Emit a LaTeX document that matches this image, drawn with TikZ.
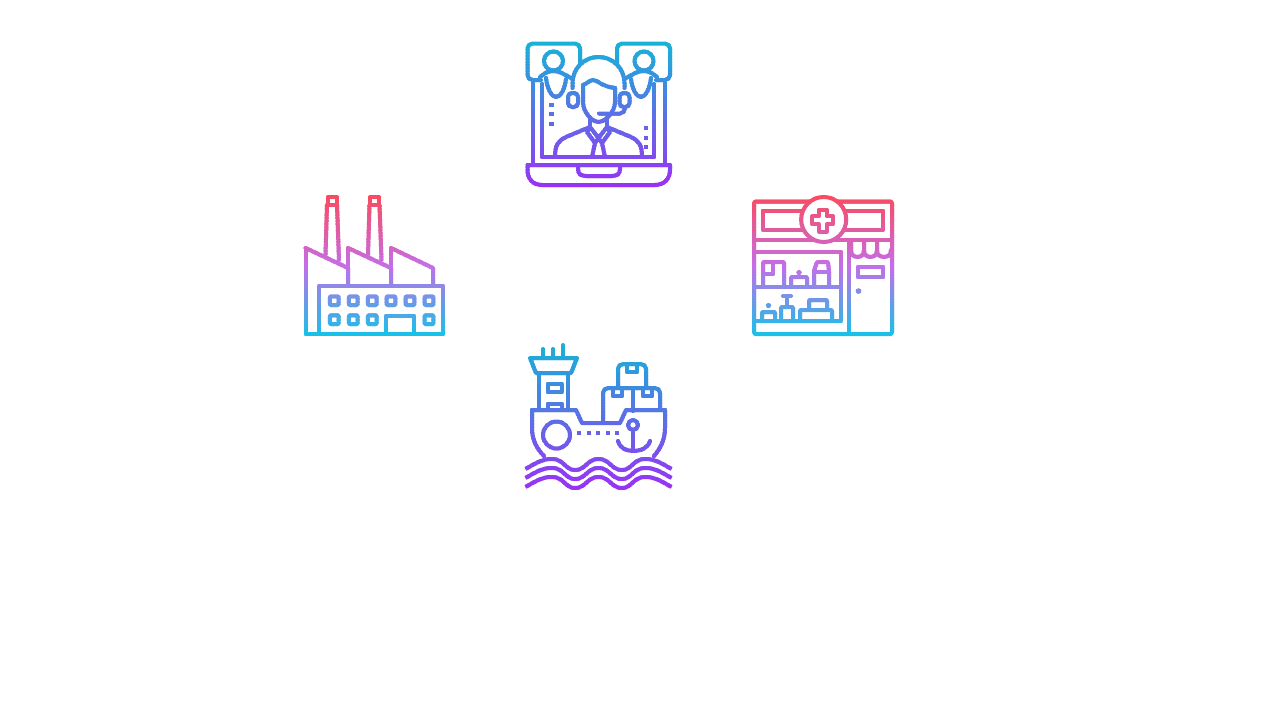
\documentclass[tikz,border=0pt]{standalone}
\usepackage{xcolor}
\definecolor{iconcyan}{HTML}{15B4D6}
\definecolor{iconpurple}{HTML}{9C30F5}
\definecolor{iconblue}{HTML}{5A70E6}
\definecolor{iconred}{HTML}{FB4A5C}
\definecolor{iconviolet}{HTML}{C46EE8}
\definecolor{iconsky}{HTML}{12C4E8}
\tikzset{
  iconline/.style={draw=bandcol, line width=4pt, line join=round, line cap=round},
  icondot/.style={fill=bandcol},
  iconpatch/.style={draw=bandcol, fill=white, line width=4pt},
}
% one strip per three pixel rows, each with its own colour
\newcommand{\gradband}[6]{%
  \foreach \bandy in {#1,\numexpr#1+3\relax,...,#2}{
    \pgfmathsetmacro{\bandt}{(\bandy-#1)/(#2-#1)*200}
    \ifdim\bandt pt<100pt
      \colorlet{bandcol}{#4!\bandt!#3}
    \else
      \pgfmathsetmacro{\bandp}{\bandt-100}
      \colorlet{bandcol}{#5!\bandp!#4}
    \fi
    \begin{scope}
      \clip (0,\bandy-0.2) rectangle (1280,\bandy+3);
      #6
    \end{scope}
  }
}
\newcommand{\drawagent}{%
  % laptop
  \draw[iconline] (527.5,165) -- (670,165) -- (670,170) .. controls (670,179) and (664,185) .. (655,185) -- (542,185) .. controls (533,185) and (527.5,179) .. (527.5,170) -- cycle;
  \draw[iconline] (578,166) -- (578,169) .. controls (578,174) and (581,176) .. (586,176) -- (612,176) .. controls (617,176) and (620,174) .. (620,169) -- (620,166);
  \draw[iconline] (533,82) -- (533,165);
  \draw[iconline] (665,82) -- (665,165);
  \draw[iconline] (542,84) -- (542,157) -- (654,157) -- (654,84);
  % bubbles
  \draw[iconline, rounded corners=5pt] (541,80) -- (527.5,80) -- (527.5,43.5) -- (580,43.5) -- (580,64);
  \draw[iconline, rounded corners=5pt] (656,80) -- (670,80) -- (670,43.5) -- (617,43.5) -- (617,64);
  % small people
  \draw[iconline] (553.5,61) circle[radius=9.5];
  \draw[iconline] (644,61) circle[radius=9.5];
  \draw[iconline, rounded corners=4pt] (540,77) -- (548,71) -- (558,71) -- (571,78);
  \draw[iconline, rounded corners=4pt] (657,77) -- (649,71) -- (639,71) -- (626,78);
  \draw[iconline] (546,78) .. controls (547,87) and (551,97) .. (556,97) .. controls (561,97) and (565,88) .. (566,79);
  \draw[iconline] (651,78) .. controls (650,87) and (646,97) .. (641,97) .. controls (636,97) and (632,88) .. (631,79);
  % head
  \draw[iconline] (572.5,88) -- (572.5,83) .. controls (572.5,68.6) and (584,57) .. (598.5,57) .. controls (613,57) and (624.5,68.6) .. (624.5,83) -- (624.5,88);
  \draw[iconline] (583,85) -- (583,102) .. controls (583,112) and (592,122) .. (598.5,122) .. controls (605,122) and (615,112) .. (615,102) -- (615,88);
  \draw[iconline] (583,85) .. controls (588,83) and (590,80) .. (593,80) .. controls (598,80) and (600,86) .. (615,88);
  \draw[iconline, rounded corners=4pt] (578,93) rectangle (568,107);
  \draw[iconline, rounded corners=4pt] (619.5,93) rectangle (629.5,107);
  \draw[iconline] (625,108) .. controls (625,111) and (623,113.5) .. (620,113.5) -- (599,113.5);
  % suit
  \draw[iconline] (590,118) -- (590,127);
  \draw[iconline] (607,118) -- (607,127);
  \draw[iconline] (555,157) .. controls (555,145) and (558,141) .. (566,137) -- (590,127);
  \draw[iconline] (642,157) .. controls (642,145) and (639,141) .. (631,137) -- (607,127);
  \draw[iconline] (590,127) -- (587,132) -- (595,143) -- (598.5,138) -- (602,143) -- (610,132) -- (607,127) -- (598.5,138) -- cycle;
  \draw[iconline] (595,143) -- (592,157);
  \draw[iconline] (602,143) -- (605,157);
  % dots
  \foreach \doty in {105,114,124}{\fill[icondot] (549,\doty-2) rectangle (553.5,\doty+2);}
  \foreach \doty in {128,138,147}{\fill[icondot] (643.5,\doty-2) rectangle (648,\doty+2);}
}
\newcommand{\drawfactory}{%
  % chimneys
  \foreach \chimx in {0,42.5}{
    \draw[iconline] (\chimx+327.5,197) rectangle (\chimx+336.5,205);
    \draw[iconline] (\chimx+327,205) -- (\chimx+325.5,255);
    \draw[iconline] (\chimx+337,205) -- (\chimx+339,260);
  }
  % roofs
  \draw[iconline] (305.5,248) -- (348,268) -- (348,285);
  \draw[iconline] (348,248) -- (391,268) -- (391,285);
  \draw[iconline] (391,248) -- (433,268) -- (433,285);
  \draw[iconline] (348,248) -- (348,268);
  \draw[iconline] (391,248) -- (391,268);
  % hall
  \draw[iconline] (305.5,248) -- (305.5,334) -- (443,334) -- (443,286) -- (319,286) -- (319,334);
  \draw[iconline] (386,334) -- (386,316) -- (414,316) -- (414,334);
  % windows
  \foreach \winx in {334.3,353.3,372.3,391,410,429}{
    \draw[iconline, rounded corners=1pt] (\winx-4.4,296.3) rectangle (\winx+4.4,305.1);
  }
  \foreach \winx in {334.3,353.3,372.3,429}{
    \draw[iconline, rounded corners=1pt] (\winx-4.4,315.3) rectangle (\winx+4.4,324.1);
  }
}
\newcommand{\drawpharmacy}{%
  % frame
  \draw[iconline, rounded corners=2pt] (754,201.5) rectangle (892,334);
  \draw[iconline] (754,240) -- (892,240);
  \draw[iconline] (762.5,210.5) rectangle (883,230);
  \draw[iconpatch] (823.7,219.5) circle[radius=22.5];
  \draw[iconline] (818.7,209.5) -- (826.7,209.5) -- (826.7,216.3) -- (833.2,216.3) -- (833.2,224.3) -- (826.7,224.3) -- (826.7,231.5) -- (818.7,231.5) -- (818.7,224.3) -- (812.2,224.3) -- (812.2,216.3) -- (818.7,216.3) -- cycle;
  % door
  \draw[iconline] (849,240) -- (849,334);
  \draw[iconline] (858,267) rectangle (883,277);
  \fill[icondot] (858.5,291) circle[radius=2.8];
  % awning
  \draw[iconline] (851,241) -- (851,250) .. controls (851,255) and (854,257) .. (857.5,257) .. controls (861,257) and (864,255) .. (864,250) -- (864,241);
  \draw[iconline] (864,250) .. controls (864,255) and (867,257) .. (870.5,257) .. controls (874,257) and (877,255) .. (877,250) -- (877,241);
  \draw[iconline] (877,250) .. controls (877,255) and (880,257) .. (884,257) .. controls (888,257) and (891,255) .. (891,250);
  % shop window
  \draw[iconline] (754,252) -- (841,252) -- (841,321) -- (754,321);
  \draw[iconline] (754,287) -- (841,287);
  % upper shelf
  \draw[iconline, rounded corners=1pt] (763,287) -- (763,262) -- (784,262) -- (784,287);
  \draw[iconline] (763,274) -- (773,274) -- (773,263);
  \fill[icondot] (799,272.5) circle[radius=2.6];
  \draw[iconline, rounded corners=1pt] (791,287) -- (791,277) -- (807,277) -- (807,287);
  \draw[iconline, rounded corners=1pt] (814,287) -- (814,271) -- (817,262) -- (828,262) -- (829,271) -- (829,287);
  \draw[iconline] (814,272) -- (829,272);
  % lower shelf
  \fill[icondot] (768.5,305.5) circle[radius=2.6];
  \draw[iconline, rounded corners=1pt] (762,321) -- (762,312) -- (775,312) -- (775,321);
  \draw[iconline] (783,296) -- (791,296);
  \draw[iconline] (787,296) -- (787,304);
  \draw[iconline, rounded corners=1pt] (781,321) -- (781,307) -- (793,307) -- (793,321);
  \draw[iconline, rounded corners=1pt] (800,321) -- (800,310) -- (832,310) -- (832,321);
  \draw[iconline, rounded corners=1pt] (809,310) -- (809,300) -- (827,300) -- (827,310);
}
\newcommand{\drawship}{%
  % masts and bridge
  \draw[iconline] (543,358) -- (543,349);
  \draw[iconline] (553,358) -- (553,349);
  \draw[iconline] (563,358) -- (563,345);
  \draw[iconline] (530,358) -- (577,358) -- (571,373) -- (536,373) -- cycle;
  \draw[iconline] (539,373) -- (539,410);
  \draw[iconline] (568,373) -- (568,410);
  \draw[iconline] (547.5,384) rectangle (561.5,392);
  \draw[iconline] (547.5,410) -- (547.5,404) -- (561.5,404) -- (561.5,410);
  % hull
  \draw[iconline] (532,410) -- (576,410) -- (582,423) -- (620,423) -- (626,410) -- (665,410);
  \draw[iconline] (532,410) -- (532,428) .. controls (532,440) and (537,449) .. (544,456);
  \draw[iconline] (665,410) -- (665,428) .. controls (665,440) and (660,449) .. (654,456);
  \draw[iconline] (556.5,435) circle[radius=13.5];
  \foreach \dotx in {579,589,598,608,617}{\fill[icondot] (\dotx-2,431) rectangle (\dotx+2,435);}
  % anchor
  \draw[iconline] (633,425) circle[radius=5];
  \draw[iconline] (633,431) -- (633,450);
  \draw[iconline] (618,441) .. controls (620,448) and (626,451) .. (633,451) .. controls (641,451) and (648,448) .. (650,441);
  % cargo
  \draw[iconline, rounded corners=5pt] (603,423) -- (603,388) -- (660,388) -- (660,410);
  \draw[iconline] (633,388) -- (633,411);
  \draw[iconline, rounded corners=5pt] (618,388) -- (618,364) -- (646,364) -- (646,388);
  \draw[iconline] (613,389) -- (613,396) -- (622,396) -- (622,389);
  \draw[iconline] (643,389) -- (643,396) -- (652,396) -- (652,389);
  \draw[iconline] (627,365) -- (627,372) -- (637,372) -- (637,365);
  % waves
  \foreach \wavey in {0,9,18}{
    \draw[iconline, line cap=butt] (525.5,\wavey+469) .. controls (536,\wavey+463) and (542,\wavey+459) .. (552,\wavey+459) .. controls (564,\wavey+459) and (565,\wavey+470) .. (575,\wavey+470) .. controls (586,\wavey+470) and (587,\wavey+459) .. (598.5,\wavey+459) .. controls (610,\wavey+459) and (611,\wavey+470) .. (622,\wavey+470) .. controls (632,\wavey+470) and (633,\wavey+459) .. (645,\wavey+459) .. controls (655,\wavey+459) and (661,\wavey+463) .. (671.5,\wavey+469);
  }
}
\begin{document}
\begin{tikzpicture}[x=1pt,y=-1pt]
  \useasboundingbox (0,0) rectangle (1280,720);
  % top
  \gradband{41}{188}{iconcyan}{iconblue}{iconpurple}{\drawagent}
  % left
  \gradband{194}{337}{iconred}{iconviolet}{iconsky}{\drawfactory}
  % right
  \gradband{194}{337}{iconred}{iconviolet}{iconsky}{\drawpharmacy}
  % bottom
  \gradband{343}{490}{iconcyan}{iconblue}{iconpurple}{\drawship}
\end{tikzpicture}
\end{document}
